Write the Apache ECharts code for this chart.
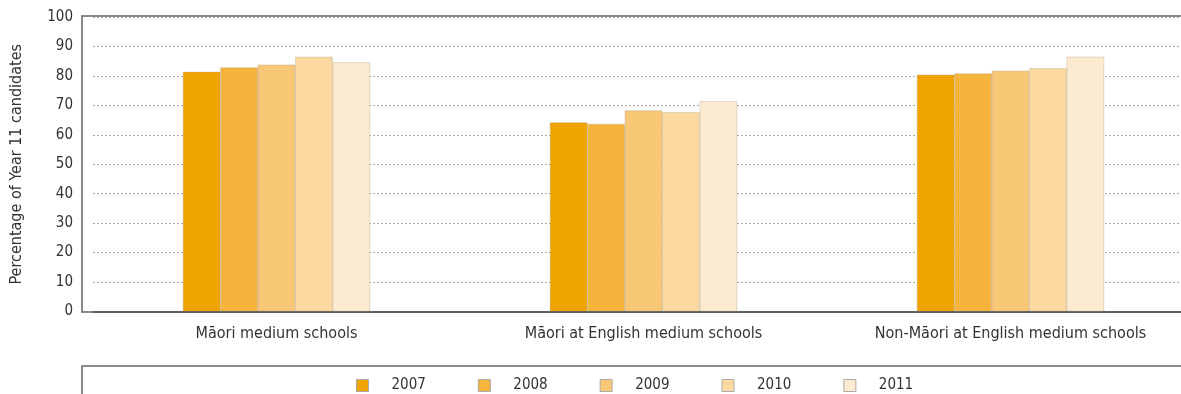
<!DOCTYPE html>
<html>
<head>
<meta charset="utf-8">
<script src="https://cdn.jsdelivr.net/npm/echarts@6/dist/echarts.min.js"></script>
<style>html,body{margin:0;padding:0;background:#fff;overflow:hidden;width:1181px;height:394px}#c{width:1194px;height:394px}</style>
</head>
<body>
<div id="c"></div>
<script>
const categories = ['Māori medium schools', 'Māori at English medium schools', 'Non-Māori at English medium schools'];
const years = ['2007', '2008', '2009', '2010', '2011'];
const v2007 = [81.4, 64.2, 80.4];
const v2008 = [82.9, 63.7, 80.8];
const v2009 = [83.8, 68.3, 81.8];
const v2010 = [86.5, 67.7, 82.6];
const v2011 = [84.6, 71.4, 86.5];
const yTicks = [0, 10, 20, 30, 40, 50, 60, 70, 80, 90, 100];
const seriesValues = [v2007, v2008, v2009, v2010, v2011];
const colors = ['#F0A400', '#F5B53D', '#F9C877', '#FBD9A0', '#FDEBD1'];
const FONT = '"DejaVu Sans Condensed", "DejaVu Sans", sans-serif';

const chart = echarts.init(document.getElementById('c'));
chart.setOption({
  animation: false,
  textStyle: { fontFamily: FONT },
  grid: { left: 93, top: 17, right: 0, height: 294.5, containLabel: false },
  xAxis: {
    type: 'category',
    data: categories,
    axisLine: { show: true, lineStyle: { color: '#555', width: 2 } },
    axisTick: { show: false },
    axisLabel: { color: '#333', fontSize: 16, margin: 14, fontFamily: FONT }
  },
  yAxis: {
    type: 'value',
    min: 0, max: 100, interval: 10,
    offset: 11,
    axisLine: { show: false },
    axisTick: { show: false },
    axisLabel: { color: '#333', fontSize: 15, margin: 9, fontFamily: FONT,
      formatter: v => yTicks.includes(v) ? String(v) : '' },
    splitLine: { show: true, lineStyle: { color: '#aaa', type: [2, 2], width: 1 } },
    name: 'Percentage of Year 11 candidates',
    nameLocation: 'middle',
    nameGap: 57,
    nameTextStyle: { color: '#333', fontSize: 16, fontFamily: FONT }
  },
  legend: {
    data: years,
    top: 373,
    left: 351,
    icon: 'rect',
    itemWidth: 12,
    itemHeight: 12,
    itemGap: 52,
    textStyle: { color: '#333', fontSize: 15, fontFamily: FONT, padding: [0, 0, 0, 18] },
    itemStyle: { borderColor: '#aaa', borderWidth: 1 }
  },
  graphic: [
    { type: 'rect', silent: true, shape: { x: 82, y: 16, width: 1200, height: 296 },
      style: { fill: 'none', stroke: '#666', lineWidth: 1.5 }, z: 10 },
    { type: 'rect', silent: true, shape: { x: 82, y: 366, width: 1200, height: 60 },
      style: { fill: 'none', stroke: '#666', lineWidth: 1.5 }, z: 10 }
  ],
  series: years.map((y, i) => ({
    name: y,
    type: 'bar',
    data: seriesValues[i],
    barGap: '0%',
    barCategoryGap: '49%',
    itemStyle: { color: colors[i], borderColor: 'rgba(170,150,120,0.55)', borderWidth: 0.6 }
  }))
});
</script>
</body>
</html>
